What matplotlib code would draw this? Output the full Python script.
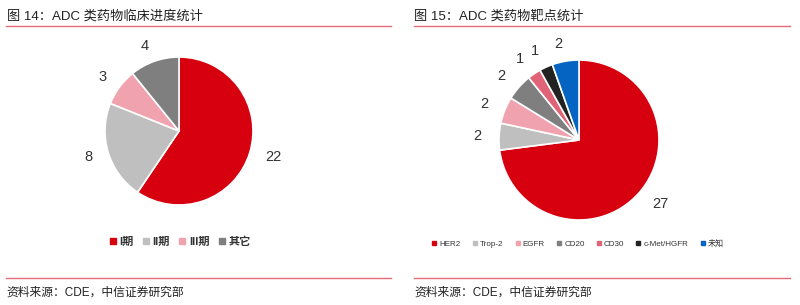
import matplotlib.pyplot as plt
from matplotlib.lines import Line2D

plt.rcParams['font.family'] = ['Liberation Sans', 'Noto Sans CJK SC', 'DejaVu Sans']

# 图14 数据
stages = ["I期", "II期", "III期", "其它"]
stage_counts = [22, 8, 3, 4]
stage_colors = ["#D7000F", "#BFBFBF", "#F0A3AE", "#7F7F7F"]

# 图15 数据
targets = ["HER2", "Trop-2", "EGFR", "CD20", "CD30", "c-Met/HGFR", "未知"]
target_counts = [27, 2, 2, 2, 1, 1, 2]
target_colors = ["#D7000F", "#BFBFBF", "#F0A3AE", "#7F7F7F", "#E06377", "#222222", "#0563C1"]

W, H = 800, 305
fig = plt.figure(figsize=(8, 3.05), dpi=100)


def pie_axes(cx, cy, r):
    # cx, cy, r in pixels (y from top)
    return fig.add_axes([(cx - r) / W, (H - cy - r) / H, 2 * r / W, 2 * r / H])


def draw_pie(ax, counts, colors):
    ax.pie(counts, colors=colors, labels=[str(c) for c in counts], startangle=90,
           counterclock=False, labeldistance=1.22,
           wedgeprops=dict(edgecolor="white", linewidth=1.2),
           textprops=dict(fontsize=10.5, color="#333333"))
    ax.set_xlim(-1, 1)
    ax.set_ylim(-1, 1)
    ax.set_aspect("equal")


ax1 = pie_axes(179, 131, 74)
draw_pie(ax1, stage_counts, stage_colors)
ax2 = pie_axes(579, 140, 80)
draw_pie(ax2, target_counts, target_colors)

# 图例
h1 = [Line2D([], [], marker="s", linestyle="", color=c, markersize=5) for c in stage_colors]
leg1 = fig.legend(h1, stages, loc="center", bbox_to_anchor=(180 / W, 1 - 242 / H), ncol=4,
                  frameon=False, fontsize=8, handlelength=0.6, handletextpad=0.3,
                  columnspacing=0.8, labelcolor="#333333")
for t in leg1.get_texts():
    t.set_fontweight("bold")
h2 = [Line2D([], [], marker="s", linestyle="", color=c, markersize=3) for c in target_colors]
fig.legend(h2, targets, loc="center", bbox_to_anchor=(578 / W, 1 - 244 / H), ncol=7,
           frameon=False, fontsize=5.8, handlelength=0.5, handletextpad=0.4, columnspacing=1.5,
           labelcolor="#333333")

# 标题、分割线与来源
fig.text(7 / W, 1 - 16 / H, "图 14：ADC 类药物临床进度统计", fontsize=9.5, va="center", color="#222222")
fig.text(414 / W, 1 - 16 / H, "图 15：ADC 类药物靶点统计", fontsize=9.5, va="center", color="#222222")
for x0, x1 in [(6, 391), (414, 790)]:
    fig.add_artist(Line2D([x0 / W, x1 / W], [1 - 26 / H] * 2, color="#E36C78", linewidth=1))
    fig.add_artist(Line2D([x0 / W, x1 / W], [1 - 278 / H] * 2, color="#E36C78", linewidth=1))
fig.text(6 / W, 1 - 293 / H, "资料来源：CDE，中信证券研究部", fontsize=8.5, va="center", color="#222222")
fig.text(414 / W, 1 - 293 / H, "资料来源：CDE，中信证券研究部", fontsize=8.5, va="center", color="#222222")

fig.savefig("out.png", dpi=100)
